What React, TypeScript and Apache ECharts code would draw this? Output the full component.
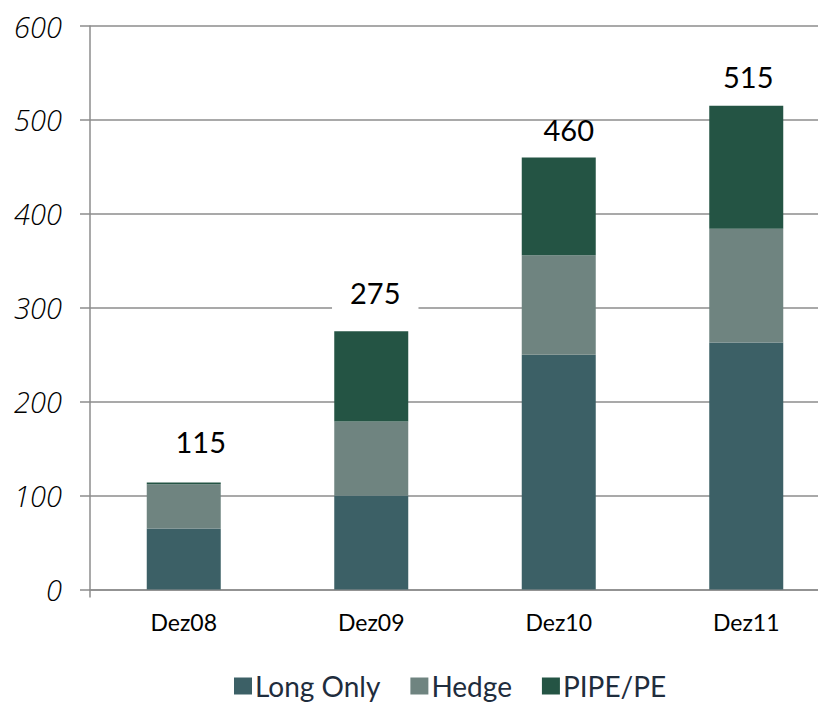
import React, { useEffect, useRef } from "react";
import * as echarts from "echarts";

const categories = ["Dez08", "Dez09", "Dez10", "Dez11"];
const longOnly = [65, 100, 250, 263];
const hedge = [47, 79, 106, 121];
const pipePe = [2, 96, 104, 131];
const totals = [115, 275, 460, 515];
const yTicks = { min: 0, max: 600, interval: 100 };

const labelGaps = [21.5, 20, 8.5, 10];
const labelShiftX = [17, 4, 10, 2];

export default function App() {
  const ref = useRef<HTMLDivElement>(null);
  useEffect(() => {
    if (!ref.current) return;
    const chart = echarts.init(ref.current, null, { renderer: "svg" });
    const gridColor = "#8c8c8c";
    const font = "Lato, 'Open Sans', sans-serif";
    chart.setOption({
      animation: false,
      backgroundColor: "#ffffff",
      grid: { left: 90, right: 0, top: 26, bottom: 119.5, containLabel: false },
      legend: {
        bottom: 4,
        left: 229,
        itemWidth: 18,
        itemHeight: 17,
        itemGap: 30,
        icon: "rect",
        textStyle: { fontFamily: font, fontSize: 28, color: "#1f2d3d", padding: [0, 0, 0, -2] },
        data: ["Long Only", "Hedge", "PIPE/PE"],
      },
      xAxis: {
        type: "category",
        data: categories,
        axisLine: { show: true, lineStyle: { color: gridColor, width: 1.5 } },
        axisTick: {
          show: true,
          length: 8,
          lineStyle: { color: gridColor, width: 1.5 },
          interval: (index: number) => index === 0,
        },
        axisLabel: { fontFamily: font, fontSize: 23, color: "#000", margin: 21 },
      },
      yAxis: {
        type: "value",
        min: yTicks.min,
        max: yTicks.max,
        interval: yTicks.interval,
        axisLine: { show: true, lineStyle: { color: gridColor, width: 1.5 } },
        axisTick: { show: true, length: 10, lineStyle: { color: gridColor, width: 1.5 } },
        splitLine: { show: true, lineStyle: { color: gridColor, width: 1.5 } },
        axisLabel: {
          fontFamily: "'Open Sans', sans-serif",
          fontStyle: "italic",
          fontWeight: 300,
          fontSize: 29,
          color: "#000",
          margin: 28,
        },
      },
      series: [
        {
          name: "Long Only",
          type: "bar",
          stack: "total",
          barWidth: 74,
          itemStyle: { color: "#3c6066" },
          data: longOnly,
        },
        {
          name: "Hedge",
          type: "bar",
          stack: "total",
          barWidth: 74,
          itemStyle: { color: "#6f8480" },
          data: hedge,
        },
        {
          name: "PIPE/PE",
          type: "bar",
          stack: "total",
          barWidth: 74,
          itemStyle: { color: "#245444" },
          data: pipePe.map((v, i) => ({
            value: v,
            label: {
              show: true,
              position: "top",
              distance: labelGaps[i],
              offset: [labelShiftX[i], 0],
              formatter: () => String(totals[i]),
              fontFamily: font,
              fontSize: 29,
              lineHeight: 16,
              color: "#000",
              backgroundColor: "#ffffff",
              padding: [0, 18, 11, 18],
            },
          })),
        },
      ],
    });
    return () => chart.dispose();
  }, []);
  return (
    <div style={{ position: "absolute", left: 0, top: 0, width: 818, height: 709, overflow: "hidden" }}>
      <div ref={ref} style={{ width: 840, height: 709 }} />
    </div>
  );
}
